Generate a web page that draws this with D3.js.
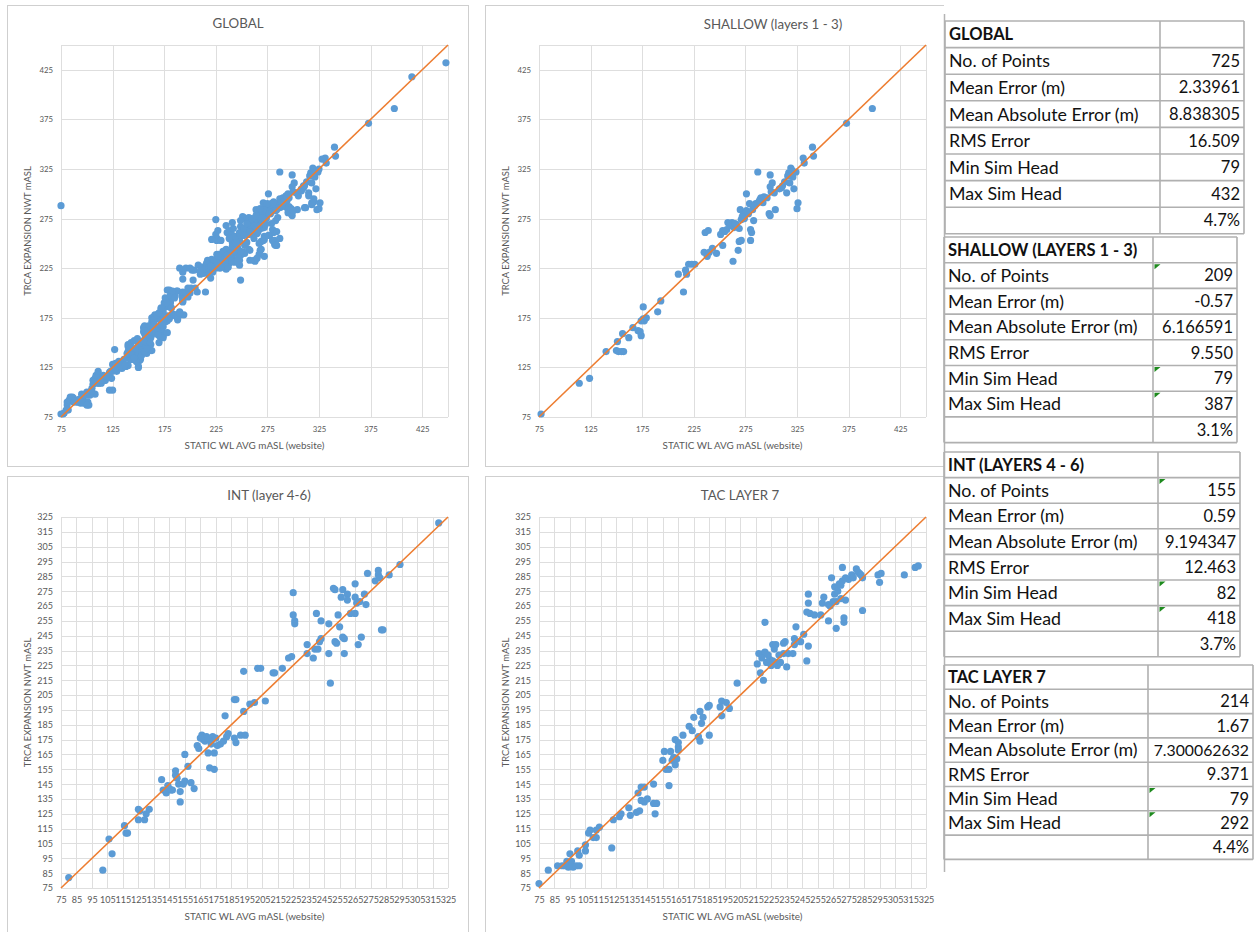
<!DOCTYPE html>
<html>
<head>
	<meta charset="UTF-8" />
	<title>TRCA expansion - static WL vs NWT</title>
	<script src="https://cdn.jsdelivr.net/npm/d3@7"></script>
	<style>
		body { margin:0; background:#fff; }
		svg { display:block; font-family: Lato, "Open Sans", sans-serif; }
	</style>
</head>
<body>
<div id="chart"></div>
<script>
var shallowPts = [[77,78],[114,109],[124,114],[140,141],[150,142],[152,141],[155,141],[157,141],[151,151],[156,159],
	[162,155],[166,165],[171,162],[173,161],[174,157],[174,172],[176,174],[177,172],[179,175],[176,186],[190,181],
	[193,192],[210,219],[215,201],[217,223],[218,219],[220,229],[223,229],[226,229],[235,241],[236,261],[239,263],
	[238,237],[240,241],[243,245],[247,240],[253,248],[251,259],[253,263],[257,264],[258,271],[262,271],[263,232],
	[264,266],[266,269],[268,243],[269,265],[269,252],[271,253],[271,274],[270,284],[273,279],[274,275],[276,300],
	[278,280],[279,290],[280,264],[280,253],[281,261],[282,284],[283,273],[285,290],[287,322],[289,294],[290,296],
	[292,291],[296,296],[298,280],[299,319],[299,278],[299,307],[301,311],[300,302],[303,301],[304,284],[310,306],
	[313,312],[315,301],[317,321],[318,311],[319,326],[321,317],[322,305],[324,322],[325,285],[326,291],[331,336],
	[332,331],[340,347],[341,338],[373,371],[398,386],[255,262],[260,268],[265,270],[272,277],[276,283],[284,288],
	[288,292],[293,297],[308,305],[311,308],[316,318],[320,324]];

var intPts = [[80,82],[102,87],[106,108],[108,98],[116,117],[117,112],[118,112],[125,128],[126,127],[125,121],
	[129,121],[130,125],[132,128],[140,148],[141,141],[143,139],[144,144],[146,141],[145,142],[147,141],[149,154],
	[149,151],[150,149],[151,145],[152,140],[152,133],[154,145],[155,147],[155,165],[157,157],[159,146],[161,142],
	[163,171],[164,169],[166,178],[167,175],[169,177],[170,166],[171,156],[173,177],[174,166],[174,155],[172,174],
	[176,171],[178,172],[180,174],[181,191],[182,177],[183,179],[187,202],[188,202],[187,176],[188,173],[191,178],
	[194,178],[193,194],[193,221],[197,199],[200,200],[202,223],[204,223],[207,201],[212,220],[213,220],[218,223],
	[222,230],[224,231],[225,274],[225,259],[226,255],[226,253],[234,239],[234,233],[238,230],[239,236],[240,260],
	[241,236],[242,241],[243,243],[243,255],[248,233],[248,253],[249,213],[251,277],[252,276],[252,241],[253,240],
	[254,259],[255,251],[256,271],[257,276],[257,244],[258,243],[258,233],[260,273],[260,269],[262,260],[265,280],
	[265,260],[265,271],[266,267],[267,239],[268,268],[269,244],[271,273],[272,266],[273,287],[278,282],[280,289],
	[280,286],[281,284],[282,249],[283,249],[287,286],[294,293],[319,321],[165,176],[168,174],[170,176],[172,172],
	[175,176]];

var tacPts = [[75,78],[81,87],[87,90],[90,90],[92,90],[93,93],[94,89],[95,98],[96,93],[97,89],[99,90],[100,100],
	[101,97],[101,90],[105,100],[105,104],[107,112],[108,114],[110,109],[112,109],[112,114],[114,116],[122,102],
	[123,121],[127,123],[128,125],[133,129],[134,124],[138,126],[140,127],[139,139],[141,143],[141,134],[143,143],
	[143,133],[145,135],[149,145],[149,132],[150,125],[151,132],[155,161],[156,167],[157,155],[159,144],[159,155],
	[160,167],[161,161],[162,163],[163,158],[163,175],[164,162],[165,170],[165,173],[165,168],[168,178],[172,184],
	[174,181],[175,190],[178,177],[179,174],[179,194],[180,186],[181,190],[184,197],[185,198],[185,178],[192,197],
	[193,191],[193,201],[196,200],[198,196],[203,213],[216,226],[217,233],[218,220],[220,233],[220,215],[221,254],
	[221,234],[222,227],[224,229],[225,225],[226,239],[227,236],[228,227],[228,239],[229,225],[231,227],[233,233],
	[233,240],[234,241],[235,224],[236,233],[239,233],[240,243],[240,239],[241,251],[244,241],[246,246],[248,228],
	[249,273],[249,267],[249,238],[248,261],[250,260],[253,259],[257,259],[258,267],[259,271],[262,255],[262,266],
	[264,284],[266,278],[267,250],[266,273],[267,268],[269,280],[270,270],[271,282],[271,291],[272,257],[272,254],
	[273,269],[275,283],[277,286],[280,290],[282,287],[284,284],[284,262],[294,286],[295,281],[296,287],[311,286],
	[318,291],[320,292],[219,230],[223,232],[226,228],[230,232],[263,265],[265,268],[268,275],[270,279],[273,284],
	[278,284],[281,288],[283,286]];

// points only seen on the GLOBAL plot
var otherPts = [[75,288],[415,418],[448,432],[78,79],[82,82],[81,90],[84,95],[87,94],[92,92],[95,90],[98,97],
	[100,87],[83,92],[86,95],[88,91],[103,97],[104,101],[106,112],[107,110],[109,117],[111,121],[113,112],[116,115],
	[119,116],[122,120],[125,102],[127,143],[128,129],[131,131],[133,126],[136,133],[137,127],[140,139],[140,146],
	[141,147],[143,150],[145,138],[146,152],[148,136],[148,131],[150,126],[151,147],[153,143],[156,162],[158,150],
	[158,139],[160,145],[162,148],[163,142],[164,160],[167,162],[169,158],[170,150],[170,180],[172,185],[173,168],
	[175,175],[176,195],[178,190],[178,203],[180,203],[181,198],[183,202],[178,160],[182,185],[185,195],[186,178],
	[188,176],[190,180],[190,225],[193,214],[196,225],[200,225],[198,205],[201,205],[205,205],[208,228],[212,226],
	[214,224],[217,228],[210,222],[216,230],[218,225],[222,221],[225,233],[227,230],[229,235],[231,238],[233,229],
	[235,244],[237,226],[239,240],[241,247],[243,231],[245,250],[247,236],[249,242],[238,262],[242,265],[244,257],
	[246,232],[230,253],[232,242],[227,263],[235,268],[241,271],[238,255],[248,260],[252,258],[262,233],[265,235],
	[272,237],[277,258],[282,253],[283,248],[287,255],[252,265],[255,270],[258,262],[260,275],[262,268],[264,278],
	[266,262],[268,285],[270,276],[273,270],[275,290],[277,280],[279,270],[281,292],[283,283],[285,276],[287,295],
	[289,287],[291,292],[293,298],[276,258],[284,248],[295,300],[298,285],[300,283],[305,298],[308,303],[310,308],
	[312,286],[315,298],[318,289],[320,295],[323,284],[325,325],[328,335],[146,135],[150,140],[153,137],[156,141],
	[158,144],[161,151],[147,144],[155,152],[226,232],[228,237],[232,234],[234,231],[236,238],[230,226],[220,227]];

var globalPts = shallowPts.concat(intPts, tacPts, otherPts);

var wideTicks = [75,125,175,225,275,325,375,425];
var narrowTicks = [75,85,95,105,115,125,135,145,155,165,175,185,195,205,215,225,235,245,255,265,275,285,295,305,315,325];

// ---- stats tables
var statLabels = ["No. of Points","Mean Error (m)","Mean Absolute Error (m)","RMS Error","Min Sim Head","Max Sim Head",""];
var globalStats = ["725","2.33961","8.838305","16.509","79","432","4.7%"];
var shallowStats = ["209","-0.57","6.166591","9.550","79","387","3.1%"];
var intStats = ["155","0.59","9.194347","12.463","82","418","3.7%"];
var tacStats = ["214","1.67","7.300062632","9.371","79","292","4.4%"];

var W = 1258, H = 932;
var svg = d3.select("#chart").append("svg").attr("width", W).attr("height", H);

var charts = [
	{title:"GLOBAL", pts:globalPts, dom:[75,450], ticks:wideTicks, fs:7.8,
	 frame:[7,5,461,461], plot:[61,45,448,417], tx:238, ty:23},
	{title:"SHALLOW (layers 1 - 3)", pts:shallowPts, dom:[75,450], ticks:wideTicks, fs:7.8,
	 frame:[485,5,600,461], plot:[539,45,926,417], tx:773, ty:24},
	{title:"INT (layer 4-6)", pts:intPts, dom:[75,325], ticks:narrowTicks, fs:9,
	 frame:[7,476,461,470], plot:[61,517,448,888], tx:269, ty:495},
	{title:"TAC LAYER 7", pts:tacPts, dom:[75,325], ticks:narrowTicks, fs:9,
	 frame:[485,476,600,470], plot:[539,517,926,888], tx:740, ty:495}
];

var drawChart = function(c) {
	var g = svg.append("g");
	g.append("rect")
		.attr("x", c.frame[0]+0.5).attr("y", c.frame[1]+0.5)
		.attr("width", c.frame[2]).attr("height", c.frame[3])
		.attr("fill", "#fff").attr("stroke", "#cfcfcf");

	var x = d3.scaleLinear().domain(c.dom).range([c.plot[0], c.plot[2]]);
	var y = d3.scaleLinear().domain(c.dom).range([c.plot[3], c.plot[1]]);

	var gridVals = c.ticks.concat([c.dom[1]]);
	g.selectAll(".vg").data(gridVals).enter().append("line")
		.attr("x1", function(d){ return Math.round(x(d))+0.5; })
		.attr("x2", function(d){ return Math.round(x(d))+0.5; })
		.attr("y1", c.plot[1]).attr("y2", c.plot[3])
		.attr("stroke", "#dedede");
	g.selectAll(".hg").data(gridVals).enter().append("line")
		.attr("y1", function(d){ return Math.round(y(d))+0.5; })
		.attr("y2", function(d){ return Math.round(y(d))+0.5; })
		.attr("x1", c.plot[0]).attr("x2", c.plot[2])
		.attr("stroke", "#dedede");

	var xa = g.append("g").attr("transform", "translate(0,"+c.plot[3]+")")
		.call(d3.axisBottom(x).tickValues(c.ticks).tickSize(0).tickPadding(9));
	var ya = g.append("g").attr("transform", "translate("+c.plot[0]+",0)")
		.call(d3.axisLeft(y).tickValues(c.ticks).tickSize(0).tickPadding(8));
	[xa, ya].forEach(function(a) {
		a.select(".domain").remove();
		a.attr("font-family", null).attr("font-size", c.fs);
		a.selectAll("text").attr("fill", "#595959");
	});

	g.append("g").selectAll("circle").data(c.pts).enter().append("circle")
		.attr("cx", function(d){ return x(d[0]); })
		.attr("cy", function(d){ return y(d[1]); })
		.attr("r", 3.6)
		.attr("fill", "#5b9bd5");

	// 1:1 line
	g.append("line")
		.attr("x1", x(c.dom[0])).attr("y1", y(c.dom[0]))
		.attr("x2", x(c.dom[1])).attr("y2", y(c.dom[1]))
		.attr("stroke", "#ed7d31").attr("stroke-width", 1.6);

	g.append("text").attr("x", c.tx).attr("y", c.ty).attr("dy", "0.35em")
		.attr("text-anchor", "middle").attr("font-size", 13.3).attr("fill", "#595959")
		.text(c.title);
	g.append("text").attr("x", (c.plot[0]+c.plot[2])/2).attr("y", c.plot[3]+29).attr("dy", "0.35em")
		.attr("text-anchor", "middle").attr("font-size", 9.9).attr("fill", "#595959")
		.text("STATIC WL AVG mASL (website)");
	g.append("text")
		.attr("transform", "translate("+(c.frame[0]+21)+","+((c.plot[1]+c.plot[3])/2)+") rotate(-90)")
		.attr("dy", "0.35em")
		.attr("text-anchor", "middle").attr("font-size", 9.4).attr("fill", "#595959")
		.text("TRCA EXPANSION NWT mASL");
};
charts.forEach(drawChart);

// ---- right hand panel (sheet cells on top of the charts)
svg.append("rect").attr("x", 944).attr("y", 0).attr("width", W-944).attr("height", H).attr("fill", "#fff");
svg.append("line").attr("x1", 944.5).attr("x2", 944.5).attr("y1", 14).attr("y2", 872)
	.attr("stroke", "#b4b4b4").attr("stroke-width", 1.5);

var tables = [
	{head:"GLOBAL", vals:globalStats, x0:945, xd:1160, x1:1244, y0:21, rh:26.6, flags:[]},
	{head:"SHALLOW (LAYERS 1 - 3)", vals:shallowStats, x0:944, xd:1153, x1:1237, y0:237, rh:25.7, flags:[0,4,5]},
	{head:"INT (LAYERS 4 - 6)", vals:intStats, x0:944, xd:1158, x1:1240, y0:452, rh:25.6, flags:[0,4,5]},
	{head:"TAC LAYER 7", vals:tacStats, x0:944, xd:1148, x1:1253, y0:665, rh:24.3, flags:[4,5]}
];

var drawTable = function(t) {
	var g = svg.append("g");
	var nr = t.vals.length + 1;
	var rowsY = d3.range(nr+1).map(function(i){ return t.y0 + i*t.rh; });
	g.selectAll(".rl").data(rowsY).enter().append("line")
		.attr("x1", t.x0).attr("x2", t.x1)
		.attr("y1", function(d){ return d; }).attr("y2", function(d){ return d; })
		.attr("stroke", "#b0b0b0").attr("stroke-width", 1.6);
	[t.x0, t.xd, t.x1].forEach(function(xx) {
		g.append("line").attr("x1", xx).attr("x2", xx).attr("y1", t.y0).attr("y2", rowsY[nr])
			.attr("stroke", "#b0b0b0").attr("stroke-width", 1.6);
	});
	g.append("text").attr("x", t.x0+4).attr("y", t.y0 + t.rh*0.5).attr("dy", "0.36em")
		.attr("font-size", 16.5).attr("font-weight", "bold").attr("fill", "#111")
		.text(t.head);
	t.vals.forEach(function(v, i) {
		var yy = t.y0 + (i+1)*t.rh + t.rh*0.5;
		g.append("text").attr("x", t.x0+4).attr("y", yy).attr("dy", "0.36em")
			.attr("font-size", 17.8).attr("fill", "#111").text(statLabels[i]);
		g.append("text").attr("x", t.x1-4).attr("y", yy).attr("dy", "0.36em")
			.attr("text-anchor", "end").attr("font-size", v.length > 9 ? 15.8 : 16.5)
			.attr("fill", "#111").text(v);
	});
	t.flags.forEach(function(i) {
		var ty = t.y0 + (i+1)*t.rh + 1.5, tx = t.xd + 1.5;
		g.append("path").attr("d", "M"+tx+" "+ty+" L"+(tx+6)+" "+ty+" L"+tx+" "+(ty+5)+" Z")
			.attr("fill", "#1e8a1e");
	});
};
tables.forEach(drawTable);
</script>
</body>
</html>
